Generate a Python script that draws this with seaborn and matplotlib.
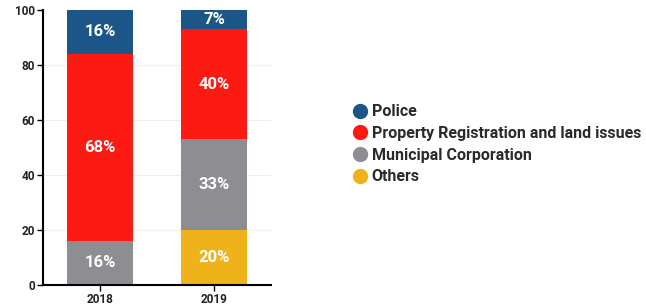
import matplotlib
matplotlib.use("Agg")
import matplotlib.pyplot as plt
import seaborn as sns
import numpy as np
import pandas as pd
from matplotlib.lines import Line2D

years = ["2018", "2019"]
series_names = ["Others", "Municipal Corporation", "Property Registration and land issues", "Police"]
others = [0, 20]
municipal = [16, 33]
property_reg = [68, 40]
police = [16, 7]
colors = {"Police": "#1c5588", "Property Registration and land issues": "#fd1a13",
          "Municipal Corporation": "#8d8d92", "Others": "#efb21b"}
yticks = [0, 20, 40, 60, 80, 100]

sns.set_theme(style="white")
plt.rcParams['font.family'] = ['Roboto', 'DejaVu Sans']

fig = plt.figure(figsize=(6.46, 3.05), dpi=100)
ax = fig.add_axes([0.0666, 0.0656, 0.353, 0.902])

values = {"Others": others, "Municipal Corporation": municipal,
          "Property Registration and land issues": property_reg, "Police": police}
bottom = np.zeros(len(years))
for name in series_names:
    vals = np.array(values[name], dtype=float)
    df = pd.DataFrame({"year": years, "v": vals})
    sns.barplot(data=df, x="year", y="v", color=colors[name], bottom=bottom,
                width=0.58, ax=ax, saturation=1, linewidth=0, errorbar=None)
    for i, v in enumerate(vals):
        if v > 0:
            ax.text(i, bottom[i] + v / 2, f"{int(v)}%", ha="center", va="center",
                    color="white", fontsize=12, fontweight="bold")
    bottom = bottom + vals

ax.set_ylim(0, 100)
ax.set_xlim(-0.5, 1.5)
ax.set_yticks(yticks)
ax.set_yticklabels([str(t) for t in yticks], fontsize=8.5, fontweight="bold", color="#222222")
ax.set_xticks(range(len(years)))
ax.set_xticklabels(years, fontsize=8.5, fontweight="bold", color="#222222")
ax.set_xlabel("")
ax.set_ylabel("")
for y in yticks[1:-1]:
    ax.axhline(y, color="#eeeeee", lw=0.8, zorder=0)
ax.set_axisbelow(True)
for s in ["top", "right"]:
    ax.spines[s].set_visible(False)
for s in ["left", "bottom"]:
    ax.spines[s].set_color("black")
    ax.spines[s].set_linewidth(1.5)
ax.tick_params(axis="both", which="both", length=4, width=1, color="black", direction="out",
               left=True, bottom=True, pad=2)

legend_order = ["Police", "Property Registration and land issues", "Municipal Corporation", "Others"]
handles = [Line2D([0], [0], marker="o", linestyle="", markersize=10,
                  markerfacecolor=colors[n], markeredgecolor=colors[n]) for n in legend_order]
leg = fig.legend(handles, legend_order, loc="upper left", bbox_to_anchor=(0.522, 0.705),
                 frameon=False, handletextpad=0.25, labelspacing=0.42, handlelength=1.0,
                 prop={"family": ["Roboto", "DejaVu Sans"], "weight": "bold", "size": 11.5})
for t in leg.get_texts():
    t.set_color("#2a2a2a")

fig.savefig("out.png", dpi=100)
